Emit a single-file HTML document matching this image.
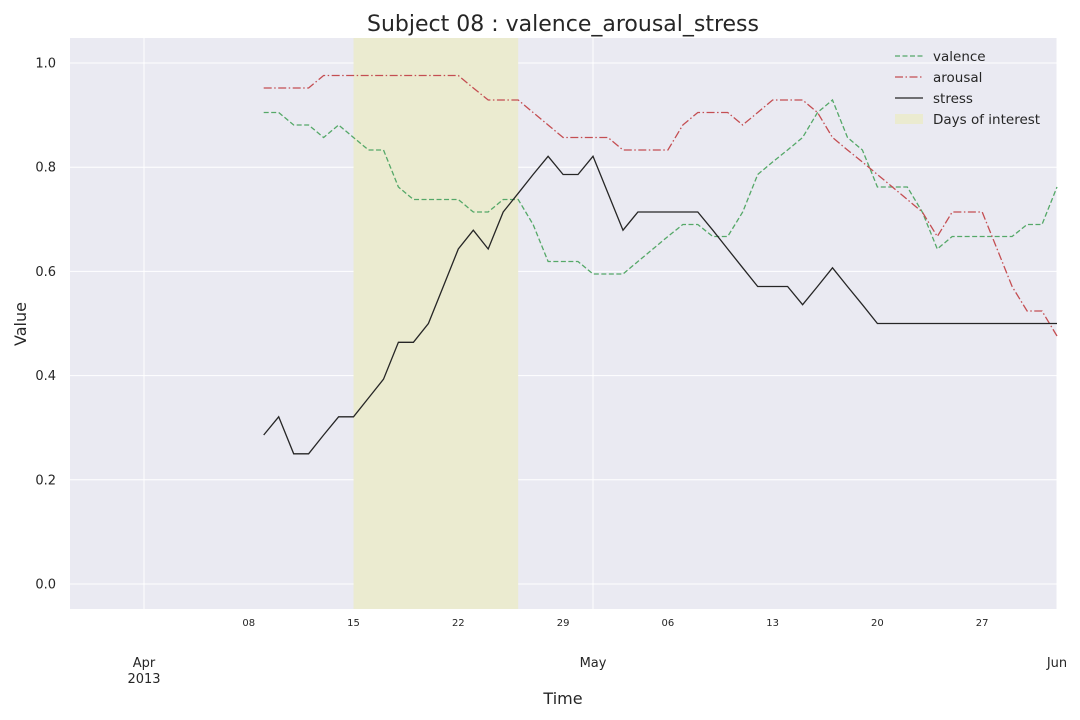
<!DOCTYPE html>
<html><head><meta charset="utf-8">
<style>
html,body{margin:0;padding:0;background:#fff;}
svg{display:block;font-family:"DejaVu Sans","Liberation Sans",sans-serif;}
</style></head>
<body>
<svg id="chart" width="1080" height="720" viewBox="0 0 1080 720" xmlns="http://www.w3.org/2000/svg">
<text x="563" y="31" font-size="22" text-anchor="middle" fill="#262626">Subject 08 : valence_arousal_stress</text>
<rect x="70" y="38" width="987" height="571" fill="#eaeaf2"/>
<g id="grid"></g>
<g id="shade"></g>
<g id="series"></g>
<g id="yticks"></g>
<g id="xticks"></g>
<text transform="translate(26,324) rotate(-90)" font-size="16" text-anchor="middle" fill="#262626">Value</text>
<text x="563" y="704" font-size="16" text-anchor="middle" fill="#262626">Time</text>
<g>
  <line x1="895" y1="56" x2="923" y2="56" stroke="#55a868" stroke-width="1.3" stroke-dasharray="5,2.5"/>
  <text x="933" y="61" font-size="13.5" fill="#262626">valence</text>
  <line x1="895" y1="77" x2="923" y2="77" stroke="#c44e52" stroke-width="1.3" stroke-dasharray="8,2.5,1.5,2.5"/>
  <text x="933" y="82" font-size="13.5" fill="#262626">arousal</text>
  <line x1="895" y1="98" x2="923" y2="98" stroke="#262626" stroke-width="1.3"/>
  <text x="933" y="103" font-size="13.5" fill="#262626">stress</text>
  <rect x="895" y="114" width="28" height="10" fill="#ebebd0"/>
  <text x="933" y="124" font-size="13.5" fill="#262626">Days of interest</text>
</g>
</svg>
<script>
// day offsets from 2013-04-01; data starts Apr 9 (offset 8), daily until Jun 1
const startDay = 8;
const valence = [0.905,0.905,0.881,0.881,0.857,0.881,0.857,0.833,0.833,0.762,0.738,0.738,0.738,0.738,0.714,0.714,0.738,0.738,0.69,0.619,0.619,0.619,
 0.595,0.595,0.595,0.619,0.643,0.667,0.69,0.69,0.667,0.667,0.714,0.786,0.81,0.833,0.857,0.905,0.929,0.857,0.833,0.762,0.762,0.762,0.714,0.643,0.667,0.667,0.667,0.667,0.667,0.69,0.69,
 0.762];
const arousal = [0.952,0.952,0.952,0.952,0.976,0.976,0.976,0.976,0.976,0.976,0.976,0.976,0.976,0.976,0.952,0.929,0.929,0.929,0.905,0.881,0.857,0.857,
 0.857,0.857,0.833,0.833,0.833,0.833,0.881,0.905,0.905,0.905,0.881,0.905,0.929,0.929,0.929,0.905,0.857,0.833,0.81,0.786,0.762,0.738,0.714,0.667,0.714,0.714,0.714,0.643,0.571,0.524,0.524,
 0.476];
const stress = [0.286,0.321,0.25,0.25,0.286,0.321,0.321,0.357,0.393,0.464,0.464,0.5,0.571,0.643,0.679,0.643,0.714,0.75,0.786,0.821,0.786,0.786,
 0.821,0.75,0.679,0.714,0.714,0.714,0.714,0.714,0.679,0.643,0.607,0.571,0.571,0.571,0.536,0.571,0.607,0.571,0.536,0.5,0.5,0.5,0.5,0.5,0.5,0.5,0.5,0.5,0.5,0.5,0.5,
 0.5];
const shadeDays = [14, 25];
const yTicks = [0, 0.2, 0.4, 0.6, 0.8, 1.0];
const yTickLabels = ["0.0","0.2","0.4","0.6","0.8","1.0"];
const minorDays = [7,14,21,28,35,42,49,56];
const minorLabels = ["08","15","22","29","06","13","20","27"];
const majorDays = [0,30,61];
const majorLabels = [["Apr","2013"],["May"],["Jun"]];

const NS="http://www.w3.org/2000/svg";
const X0=70,X1=1057,Y0=38,Y1=609;
const dayPx=(1057-144)/61;
function xs(d){return 144+d*dayPx;}
function ys(v){return 584-v*521;}
function mk(tag,attrs,parent){const e=document.createElementNS(NS,tag);for(const k in attrs)e.setAttribute(k,attrs[k]);parent.appendChild(e);return e;}
const grid=document.getElementById('grid');
yTicks.forEach(v=>{
  const l=mk('line',{x1:X0,x2:X1,y1:ys(v),y2:ys(v),stroke:'#fff','stroke-width':1},grid);
  
  
});
majorDays.forEach(d=>{
  const l=mk('line',{x1:xs(d),x2:xs(d),y1:Y0,y2:Y1,stroke:'#fff','stroke-width':1},grid);
  
  
});
const sh=mk('rect',{x:xs(shadeDays[0]),y:Y0,width:xs(shadeDays[1])-xs(shadeDays[0]),height:Y1-Y0,fill:'#ebebd0'},document.getElementById('shade'));


const ser=document.getElementById('series');
function line(arr,color,dash,name){
  const pts=arr.map((v,i)=>xs(startDay+i).toFixed(1)+','+ys(v).toFixed(1)).join(' ');
  const p=mk('polyline',{points:pts,fill:'none',stroke:color,'stroke-width':1.3,'stroke-dasharray':dash},ser);
  
  
}
line(valence,'#55a868','5,2.5','valence-line');
line(arousal,'#c44e52','8,2.5,1.5,2.5','arousal-line');
line(stress,'#262626','none','stress-line');
const yt=document.getElementById('yticks');
yTicks.forEach((v,i)=>{
  const t=mk('text',{x:56,y:ys(v)+4.5,'font-size':13,'text-anchor':'end',fill:'#262626'},yt);
  t.textContent=yTickLabels[i];
  
  
});
const xt=document.getElementById('xticks');
minorDays.forEach((d,i)=>{
  const t=mk('text',{x:xs(d),y:626,'font-size':10,'text-anchor':'middle',fill:'#262626'},xt);
  t.textContent=minorLabels[i];
  
  
});
majorDays.forEach((d,i)=>{
  majorLabels[i].forEach((s,j)=>{
    const t=mk('text',{x:xs(d),y:667+j*16,'font-size':13,'text-anchor':'middle',fill:'#262626'},xt);
    t.textContent=s;
    
    
  });
});
</script>
</body></html>
